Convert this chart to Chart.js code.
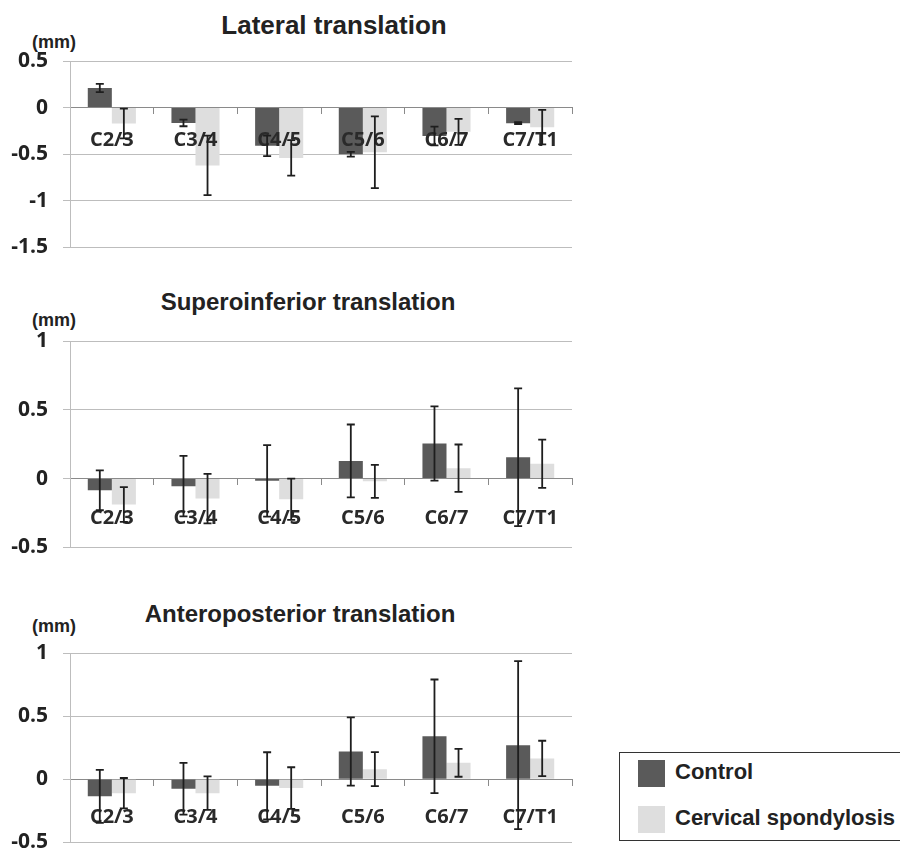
<!DOCTYPE html>
<html>
<head>
<meta charset="utf-8">
<script src="https://cdn.jsdelivr.net/npm/chart.js@4.4.1/dist/chart.umd.min.js"></script>
<style>
  html, body { margin: 0; padding: 0; background: #fff; width: 900px; height: 856px; overflow: hidden; }
  canvas { position: absolute; left: 0; }
  .title { position: absolute; font-family: "Liberation Sans", Arial, sans-serif; font-weight: bold; color: #222; line-height: 1; white-space: nowrap; transform: translateX(-50%); }
  .unit { position: absolute; left: 32px; font-family: "Liberation Sans", Arial, sans-serif; font-weight: bold; font-size: 18px; color: #222; line-height: 1; }
  #legend { position: absolute; left: 619px; top: 752px; width: 320px; height: 87px; border: 1.5px solid #333; }
  .item { position: absolute; left: 18px; font-family: "Liberation Sans", Arial, sans-serif; font-weight: bold; font-size: 22px; color: #222; line-height: 1; white-space: nowrap; }
  .sw { display: inline-block; width: 27px; height: 27px; vertical-align: middle; margin-right: 10px; }
  .preload { position: absolute; left: -999px; font-family: "Open Sans"; font-weight: 700; }
</style>
</head>
<body>
<span class="preload">C2/3 0.5</span>
<div class="title" style="left:334px; top:12px; font-size:26px;">Lateral translation</div>
<div class="unit" style="top:33px;">(mm)</div>
<canvas id="lateral" width="600" height="275" style="top:0px;"></canvas>

<div class="title" style="left:308px; top:290px; font-size:24px;">Superoinferior translation</div>
<div class="unit" style="top:311px;">(mm)</div>
<canvas id="superoinferior" width="600" height="300" style="top:275px;"></canvas>

<div class="title" style="left:300px; top:602px; font-size:24px;">Anteroposterior translation</div>
<div class="unit" style="top:617px;">(mm)</div>
<canvas id="anteroposterior" width="600" height="295" style="top:575px;"></canvas>

<div id="legend"></div>

<script>
const categories = ['C2/3', 'C3/4', 'C4/5', 'C5/6', 'C6/7', 'C7/T1'];
const seriesNames = ['Control', 'Cervical spondylosis'];
const seriesColors = ['#5a5a5a', '#dedede'];

// lateral translation (mm), mean and SD
const lateralControl = [0.21, -0.165, -0.41, -0.50, -0.305, -0.167];
const lateralControlErr = [0.045, 0.035, 0.11, 0.025, 0.10, 0.01];
const lateralCS = [-0.17, -0.62, -0.54, -0.48, -0.26, -0.21];
const lateralCSErr = [0.16, 0.32, 0.19, 0.385, 0.14, 0.185];

// superoinferior translation (mm)
const supControl = [-0.085, -0.055, -0.016, 0.128, 0.255, 0.155];
const supControlErr = [0.145, 0.22, 0.26, 0.265, 0.27, 0.50];
const supCS = [-0.188, -0.145, -0.15, -0.02, 0.076, 0.108];
const supCSErr = [0.126, 0.18, 0.15, 0.12, 0.172, 0.175];

// anteroposterior translation (mm)
const apControl = [-0.135, -0.075, -0.052, 0.22, 0.34, 0.27];
const apControlErr = [0.21, 0.205, 0.266, 0.27, 0.45, 0.665];
const apCS = [-0.11, -0.11, -0.07, 0.08, 0.13, 0.165];
const apCSErr = [0.12, 0.133, 0.165, 0.135, 0.11, 0.14];

const yTicksLateral = [-1.5, -1, -0.5, 0, 0.5];
const yTicksOther = [-0.5, 0, 0.5, 1];

const errorBars = {
    id: 'errorBars',
    afterDraw(chart) {
        const ctx = chart.ctx;
        const y = chart.scales.y;
        ctx.save();
        ctx.strokeStyle = '#1e1e1e';
        ctx.lineWidth = 1.8;
        chart.data.datasets.forEach((ds, di) => {
            const meta = chart.getDatasetMeta(di);
            meta.data.forEach((bar, i) => {
                const v = ds.data[i], e = ds.errors[i];
                const top = y.getPixelForValue(v + e);
                const bot = y.getPixelForValue(v - e);
                ctx.beginPath();
                ctx.moveTo(bar.x, top); ctx.lineTo(bar.x, bot);
                ctx.moveTo(bar.x - 4, top); ctx.lineTo(bar.x + 4, top);
                ctx.moveTo(bar.x - 4, bot); ctx.lineTo(bar.x + 4, bot);
                ctx.stroke();
            });
        });
        ctx.restore();
    }
};

function grafica(id, control, controlErr, cs, csErr, yTicks, padding, labelPadding) {
    new Chart(document.getElementById(id), {
        type: 'bar',
        data: {
            labels: categories,
            datasets: [
                { label: seriesNames[0], data: control, errors: controlErr, backgroundColor: seriesColors[0] },
                { label: seriesNames[1], data: cs, errors: csErr, backgroundColor: seriesColors[1] }
            ]
        },
        options: {
            responsive: false,
            animation: false,
            layout: { padding: padding },
            categoryPercentage: 0.575,
            barPercentage: 1.0,
            plugins: { legend: { display: false }, tooltip: { enabled: false } },
            scales: {
                x: {
                    position: { y: 0 },
                    grid: { display: true, drawOnChartArea: false, offset: true, tickLength: 6, color: '#8a8a8a' },
                    border: { display: true, color: '#8a8a8a', width: 1 },
                    ticks: {
                        z: 1, padding: labelPadding, maxRotation: 0, autoSkip: false,
                        color: '#2a2a2a', font: { family: 'Open Sans', weight: 700, size: 20 }
                    }
                },
                y: {
                    min: yTicks[0],
                    max: yTicks[yTicks.length - 1],
                    afterBuildTicks: scale => { scale.ticks = yTicks.map(v => ({ value: v })); },
                    afterFit: scale => { scale.width = 70; },
                    grid: { color: '#bdbdbd', tickLength: 7 },
                    border: { display: true, color: '#bdbdbd' },
                    ticks: {
                        padding: 15, color: '#222',
                        font: { family: 'Open Sans', weight: 700, size: 21 },
                        callback: v => String(v)
                    }
                }
            }
        },
        plugins: [errorBars]
    });
}

function dibujar() {
    grafica('lateral', lateralControl, lateralControlErr, lateralCS, lateralCSErr, yTicksLateral,
        { top: 61, bottom: 23, left: 0, right: 28 }, 15);
    grafica('superoinferior', supControl, supControlErr, supCS, supCSErr, yTicksOther,
        { top: 66, bottom: 18, left: 0, right: 28 }, 22);
    grafica('anteroposterior', apControl, apControlErr, apCS, apCSErr, yTicksOther,
        { top: 78, bottom: 24, left: 0, right: 28 }, 20);
}

const legend = document.getElementById('legend');
seriesNames.forEach((name, i) => {
    const div = document.createElement('div');
    div.className = 'item';
    div.style.top = (7 + i * 46) + 'px';
    div.innerHTML = '<span class="sw" style="background:' + seriesColors[i] + '"></span>' + name;
    legend.appendChild(div);
});

document.fonts.load('700 20px "Open Sans"').then(dibujar, dibujar);
</script>
</body>
</html>
